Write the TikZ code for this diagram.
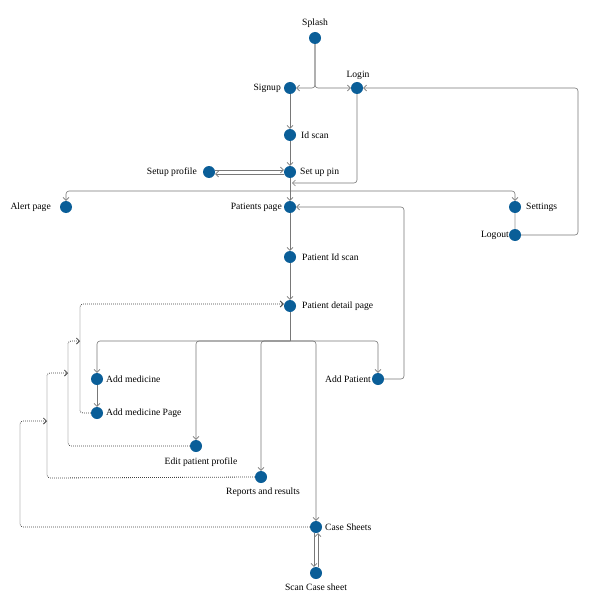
\documentclass[tikz,border=0pt]{standalone}
\usepackage{fontspec}
\setmainfont{Liberation Serif}
\usetikzlibrary{arrows.meta}
\definecolor{nodeblue}{RGB}{10,94,152}
\definecolor{linegrey}{RGB}{120,120,120}
\begin{document}
\begin{tikzpicture}[x=1pt,y=-1pt,
  dot/.style={circle,fill=nodeblue,minimum size=12pt,inner sep=0pt},
  lbl/.style={font=\fontsize{9.6}{11}\selectfont,inner sep=1pt},
  conn/.style={draw=linegrey,line width=0.6pt,rounded corners=3pt},
  dotconn/.style={draw=black!75,line width=0.8pt,dash pattern=on 0.8pt off 1.2pt,rounded corners=3pt},
  tip/.style={-{Straight Barb[length=3pt,width=6pt]}}
]
\useasboundingbox[fill=white] (0,0) rectangle (600,604);

% nodes
\node[dot] (splash) at (315,38) {};
\node[dot] (signup) at (290,88) {};
\node[dot] (login) at (357,88) {};
\node[dot] (idscan) at (290,135) {};
\node[dot] (setuppin) at (290,172) {};
\node[dot] (setupprofile) at (209,172) {};
\node[dot] (alert) at (66,207) {};
\node[dot] (patients) at (290,207) {};
\node[dot] (settings) at (515,207) {};
\node[dot] (logout) at (515,235) {};
\node[dot] (patientid) at (290,257) {};
\node[dot] (detail) at (290,306) {};
\node[dot] (addmed) at (97,379) {};
\node[dot] (addmedpage) at (97,413) {};
\node[dot] (editprof) at (196,446) {};
\node[dot] (reports) at (261,477) {};
\node[dot] (addpatient) at (378,379) {};
\node[dot] (casesheets) at (316,527) {};
\node[dot] (scan) at (316,573) {};

% labels
\node[lbl] (splashL) at (315,23) {Splash};
\node[lbl,anchor=east] (signupL) at (282,88) {Signup};
\node[lbl] (loginL) at (358,75) {Login};
\node[lbl,anchor=west] (idscanL) at (300,135) {Id scan};
\node[lbl,anchor=west] (setuppinL) at (299,172) {Set up pin};
\node[lbl,anchor=east] (setupprofileL) at (198,172) {Setup profile};
\node[lbl,anchor=east] (alertL) at (52,207) {Alert page};
\node[lbl,anchor=east] (patientsL) at (283,207) {Patients page};
\node[lbl,anchor=west] (settingsL) at (525,207) {Settings};
\node[lbl,anchor=east] (logoutL) at (510,235) {Logout};
\node[lbl,anchor=west] (patientidL) at (301,257) {Patient Id scan};
\node[lbl,anchor=west] (detailL) at (301,306) {Patient detail page};
\node[lbl,anchor=west] (addmedL) at (105,379) {Add medicine};
\node[lbl,anchor=west] (addmedpageL) at (105,413) {Add medicine Page};
\node[lbl,anchor=east] (addpatientL) at (372,379) {Add Patient};
\node[lbl] (editprofL) at (201,462) {Edit patient profile};
\node[lbl] (reportsL) at (263,492) {Reports and results};
\node[lbl,anchor=west] (casesheetsL) at (324,527) {Case Sheets};
\node[lbl] (scanL) at (316,587) {Scan Case sheet};

% coordinates
\coordinate (pinin) at (292,183);
\coordinate (pb) at (290,191);
\coordinate (db) at (290,341);

% solid connectors
\draw[conn,tip] (splash.south) |- (signup.east);
\draw[conn,tip] (splash.south) |- (login.west);
\draw[conn,tip] (logout.east) -- (578,235) -- (578,88) -- (login.east);
\draw[conn,tip] (signup) -- (idscan);
\draw[conn,tip] (idscan) -- (setuppin);
\draw[conn,tip] (login.south) |- (pinin);
\draw[conn,tip] ([yshift=2pt]setupprofile.east) -- ([yshift=2pt]setuppin.west);
\draw[conn,tip] ([yshift=-2pt]setuppin.west) -- ([yshift=-2pt]setupprofile.east);
\draw[conn,tip] (setuppin) -- (patients);
\draw[conn,tip] (pb) -| (alert.north);
\draw[conn,tip] (pb) -| (settings.north);
\draw[draw=black!15,line width=1.2pt] (settings) -- (logout);
\draw[conn,tip] (patients) -- (patientid);
\draw[conn,tip] (patientid) -- (detail);
\draw[conn,tip] (addpatient.east) -- (404,379) -- (404,207) -- (patients.east);
\draw[conn] (detail) -- (db);
\draw[conn,tip] (db) -| (addmed.north);
\draw[conn,tip] (db) -| (editprof.north);
\draw[conn,tip] (db) -| (reports.north);
\draw[conn,tip] (db) -| (casesheets.north);
\draw[conn,tip] (db) -| (addpatient.north);
\draw[conn,tip] (addmed) -- (addmedpage);
\draw[conn,tip] ([xshift=-2pt]casesheets.south) -- ([xshift=-2pt]scan.north);
\draw[conn,tip] ([xshift=2pt]scan.north) -- ([xshift=2pt]casesheets.south);

% dotted return connectors
\draw[dotconn,tip] (addmedpage.west) -- (80,413) -- (80,304) -- ([yshift=2pt]detail.west);
\draw[dotconn,tip] (editprof.west) -- (68,446) -- (68,341) -- (80,341);
\draw[dotconn,tip] (reports.west) -- (47,478) -- (47,373) -- (68,373);
\draw[dotconn,tip] (casesheets.west) -- (20,527) -- (20,421) -- (47,421);
\end{tikzpicture}
\end{document}
